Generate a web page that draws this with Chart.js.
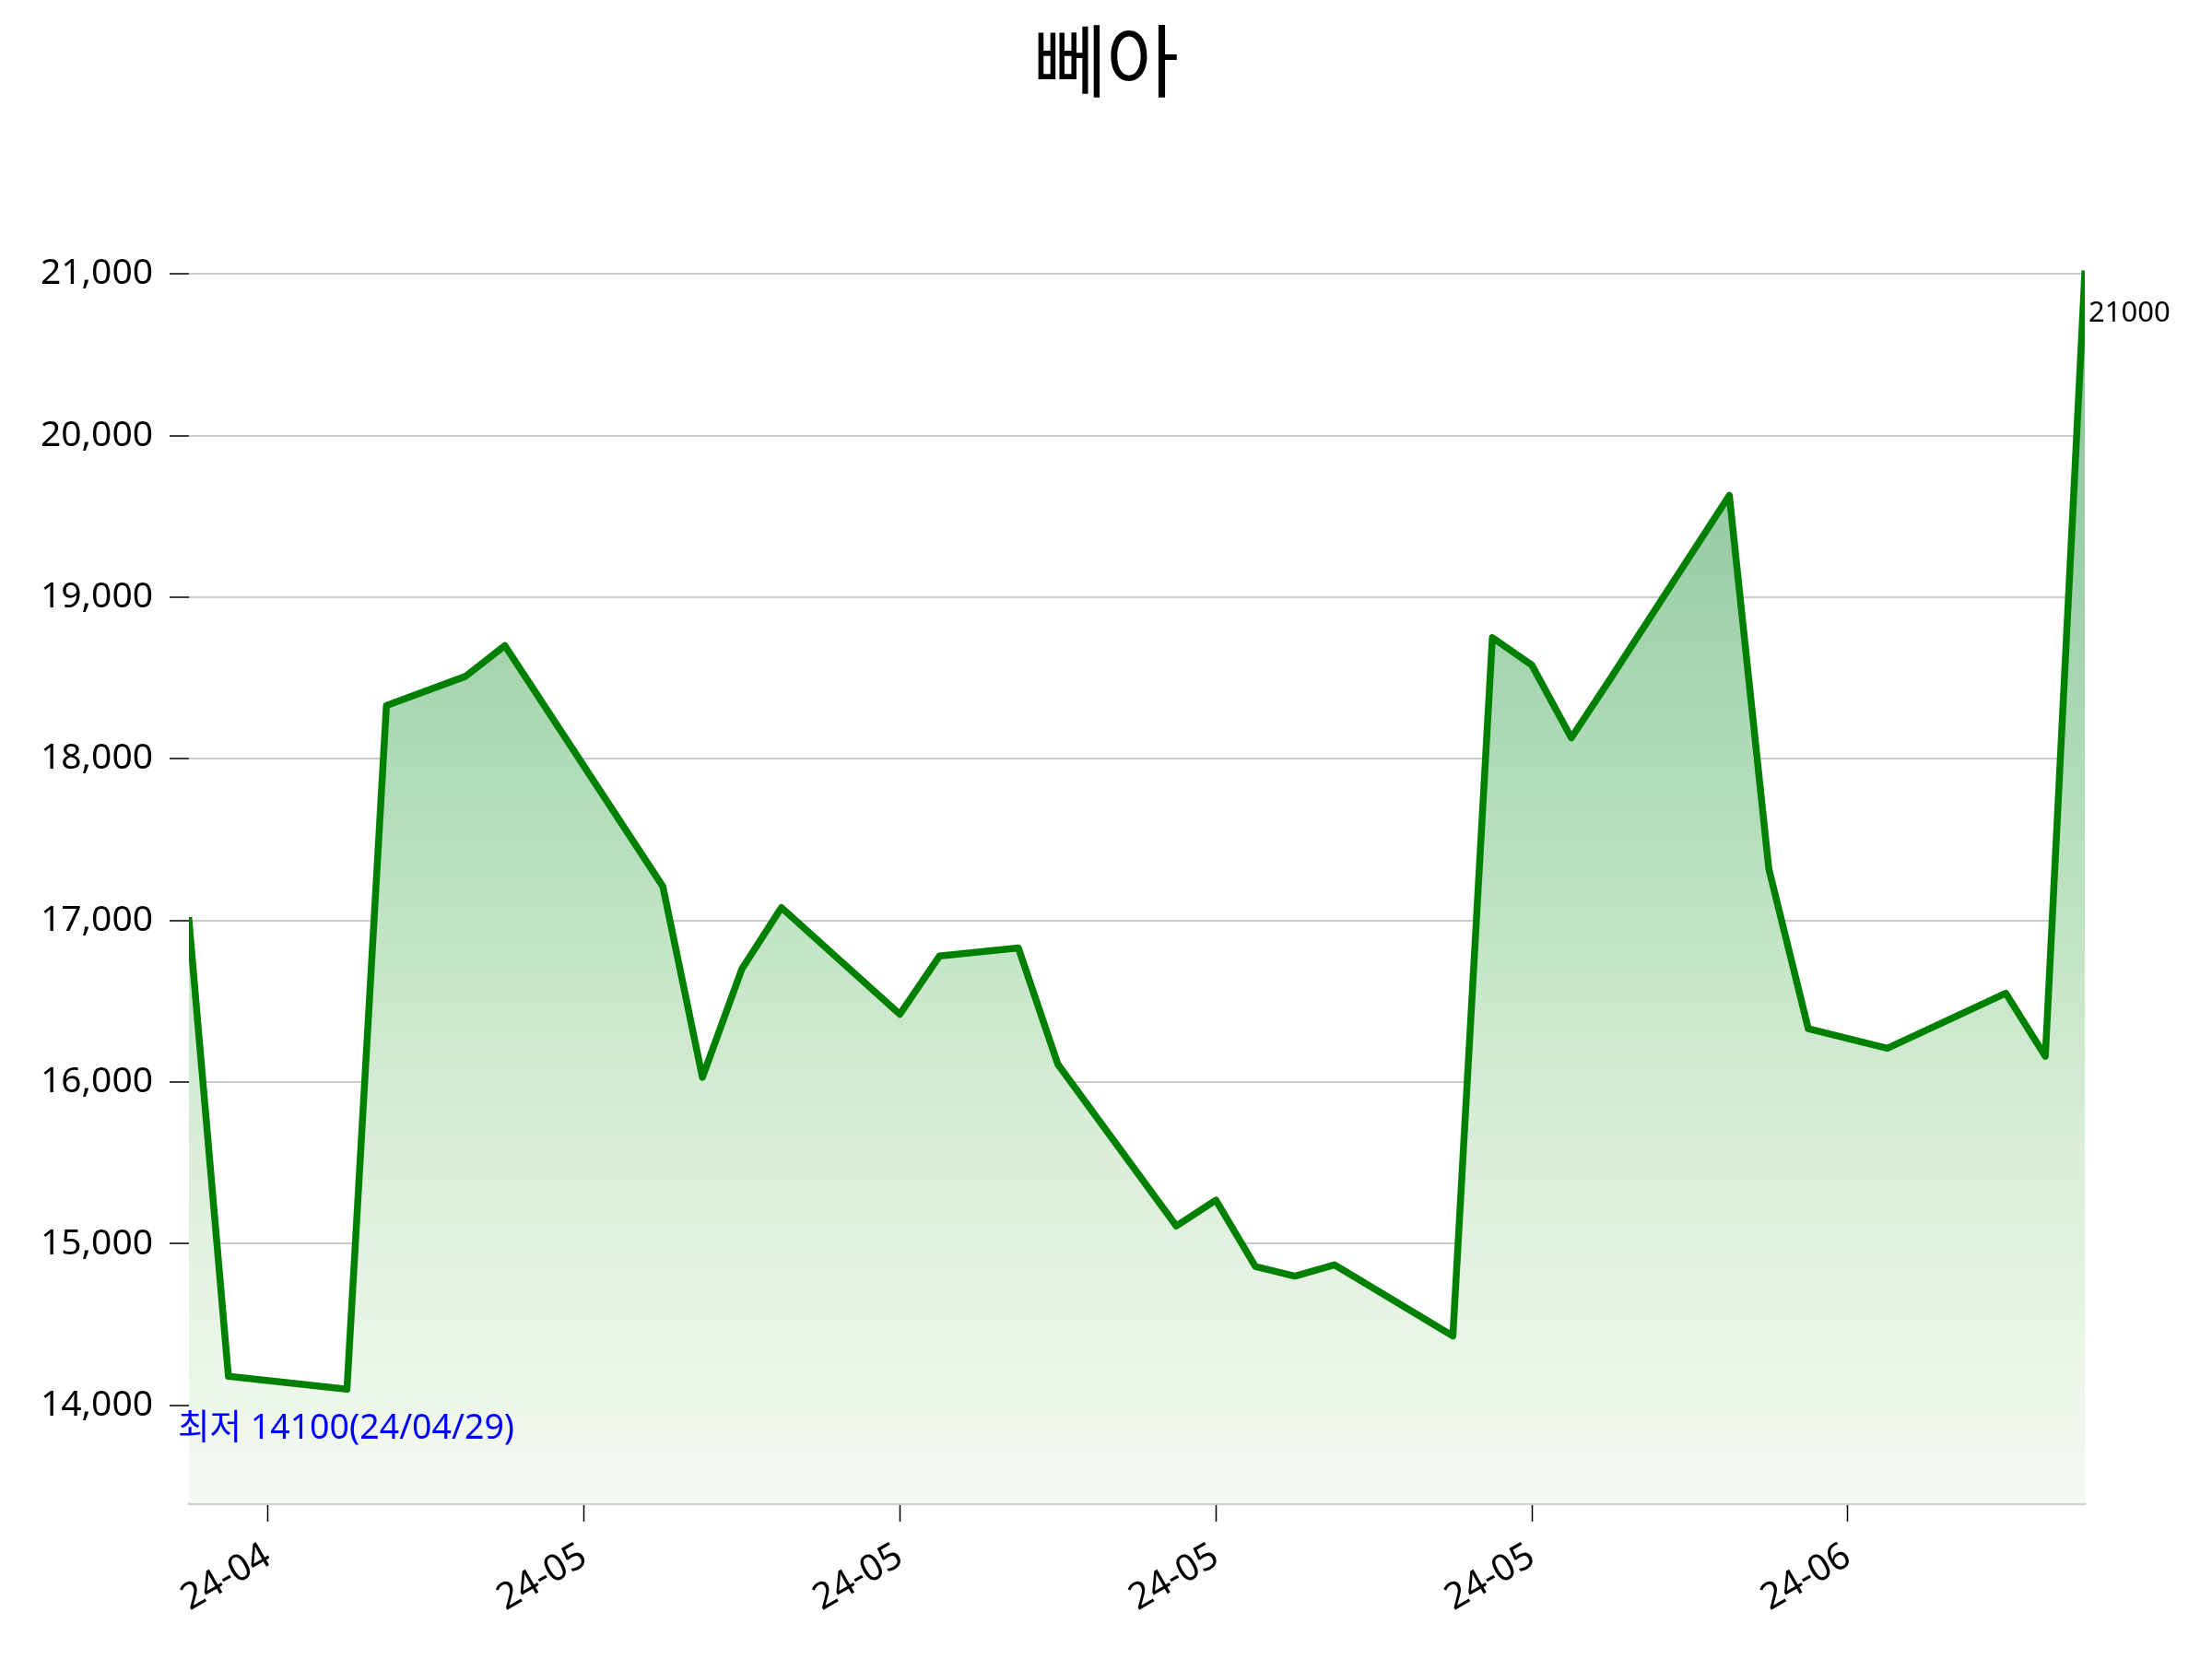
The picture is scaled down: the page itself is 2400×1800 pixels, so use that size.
<!DOCTYPE html>
<html>
<head>
<meta charset="utf-8">
<script src="https://cdn.jsdelivr.net/npm/chart.js@4.4.1/dist/chart.umd.min.js"></script>
<style>
  html, body { margin: 0; padding: 0; background: #fff; }
</style>
</head>
<body>
<canvas id="chart" width="2400" height="1800"></canvas>
<script>
// trading days and closing prices
const titleText = '뻬아';
const dates = [
  '2024-04-25', '2024-04-26', '2024-04-29', '2024-04-30', '2024-05-02', '2024-05-03',
  '2024-05-07', '2024-05-08', '2024-05-09', '2024-05-10', '2024-05-13', '2024-05-14',
  '2024-05-16', '2024-05-17', '2024-05-20', '2024-05-21', '2024-05-22', '2024-05-23',
  '2024-05-24', '2024-05-27', '2024-05-28', '2024-05-29', '2024-05-30', '2024-05-31',
  '2024-06-03', '2024-06-04', '2024-06-05', '2024-06-07', '2024-06-10', '2024-06-11',
  '2024-06-12'
];
const prices = [
  17000, 14180, 14100, 18330, 18510, 18700,
  17210, 16030, 16700, 17080, 16420, 16780,
  16830, 16110, 15110, 15270, 14860, 14800,
  14870, 14430, 18750, 18580, 18130, 18500,
  19630, 17320, 16330, 16210, 16550, 16160,
  21000
];
const xTickDates = ['2024-04-27', '2024-05-05', '2024-05-13', '2024-05-21', '2024-05-29', '2024-06-06'];
const xTickLabels = ['24-04', '24-05', '24-05', '24-05', '24-05', '24-06'];
const yTicks = [14000, 15000, 16000, 17000, 18000, 19000, 20000, 21000];

const FONT = '"Noto Sans", "Noto Sans CJK KR", sans-serif';
const CJK_FONT = '"Noto Sans CJK KR", sans-serif';

// dates -> day numbers so a linear axis can place them
function toDay(s) {
    const [y, m, d] = s.split('-').map(Number);
    return Date.UTC(y, m - 1, d) / 86400000;
}
const days = dates.map(toDay);
const tickDays = xTickDates.map(toDay);

const minPrice = Math.min(...prices);
const maxPrice = Math.max(...prices);
const minIdx = prices.indexOf(minPrice);
const lastIdx = prices.length - 1;

function shortDate(s) {
    return s.slice(2).replace(/-/g, '/');
}

const overlay = {
    id: 'overlay',
    afterDraw(chart) {
        const { ctx } = chart;
        const x = chart.scales.x;
        const y = chart.scales.y;
        ctx.save();

        // title
        ctx.fillStyle = '#000';
        ctx.font = '86px ' + CJK_FONT;
        ctx.textAlign = 'center';
        ctx.textBaseline = 'alphabetic';
        ctx.fillText(titleText, chart.width / 2, 99);

        // lowest price note
        ctx.fillStyle = '#0000ff';
        ctx.font = '37.5px ' + FONT;
        ctx.textAlign = 'left';
        ctx.textBaseline = 'top';
        ctx.fillText('최저 ' + minPrice + '(' + shortDate(dates[minIdx]) + ')',
            x.getPixelForValue(days[0]) - 12, y.getPixelForValue(minPrice) + 24);

        // last price
        ctx.fillStyle = '#000';
        ctx.font = '31px ' + FONT;
        ctx.fillText(String(prices[lastIdx]),
            x.getPixelForValue(days[lastIdx]) + 4, y.getPixelForValue(prices[lastIdx]) + 28);

        ctx.restore();
    }
};

const ctx = document.getElementById('chart').getContext('2d');

new Chart(ctx, {
    type: 'line',
    data: {
        datasets: [{
            data: days.map((d, i) => ({ x: d, y: prices[i] })),
            borderColor: '#008000',
            borderWidth: 7.5,
            borderCapStyle: 'square',
            borderJoinStyle: 'round',
            pointRadius: 0,
            tension: 0,
            clip: 0,
            fill: 'start',
            backgroundColor: (context) => {
                const chart = context.chart;
                const area = chart.chartArea;
                if (!area) return 'rgba(0,128,0,0.2)';
                const top = chart.scales.y.getPixelForValue(maxPrice);
                const g = chart.ctx.createLinearGradient(0, top, 0, area.bottom);
                g.addColorStop(0, 'rgb(138,195,154)');
                g.addColorStop(0.23, 'rgb(156,207,168)');
                g.addColorStop(0.45, 'rgb(181,223,187)');
                g.addColorStop(0.71, 'rgb(218,238,216)');
                g.addColorStop(1, 'rgb(245,250,243)');
                return g;
            }
        }]
    },
    options: {
        responsive: false,
        animation: false,
        layout: {
            padding: { left: 0, top: 113, right: 138, bottom: 0 }
        },
        plugins: {
            legend: { display: false },
            tooltip: { enabled: false }
        },
        scales: {
            x: {
                type: 'linear',
                min: days[0],
                max: days[lastIdx],
                afterBuildTicks: (axis) => {
                    axis.ticks = tickDays.map(v => ({ value: v }));
                },
                afterFit: (axis) => { axis.height = 169; },
                ticks: {
                    autoSkip: false,
                    minRotation: 30,
                    maxRotation: 30,
                    padding: 14,
                    color: '#000',
                    font: { family: FONT, size: 40 },
                    callback: (value, index) => xTickLabels[index]
                },
                grid: {
                    drawOnChartArea: false,
                    tickColor: '#000',
                    tickLength: 20,
                    tickWidth: 1.5
                },
                border: { color: '#d0d0d0', width: 3 }
            },
            y: {
                min: 13395,
                max: 22050,
                afterBuildTicks: (axis) => {
                    axis.ticks = yTicks.map(v => ({ value: v }));
                },
                afterFit: (axis) => { axis.width = 205; },
                ticks: {
                    padding: 18,
                    color: '#000',
                    font: { family: FONT, size: 39 },
                    callback: (value) => value.toLocaleString('en-US')
                },
                grid: {
                    color: '#cccccc',
                    lineWidth: 2,
                    tickColor: '#000',
                    tickLength: 21,
                    tickWidth: 1.5
                },
                border: { display: false }
            }
        }
    },
    plugins: [overlay]
});
</script>
</body>
</html>
